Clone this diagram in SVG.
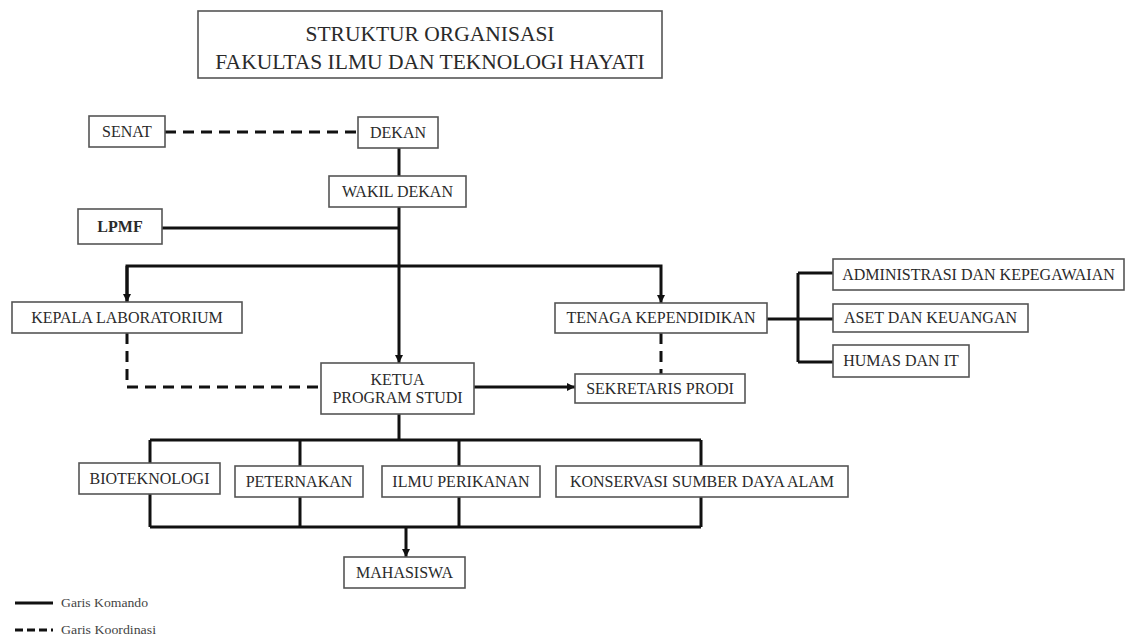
<svg xmlns="http://www.w3.org/2000/svg" width="1133" height="636" viewBox="0 0 1133 636">
<style>
.box{fill:#fff;stroke:#555;stroke-width:1.6}
.t{font-family:"Liberation Serif","Times New Roman",serif;font-size:16px;fill:#2a2a2a;text-anchor:middle}
.title{font-family:"Liberation Serif","Times New Roman",serif;font-size:21.5px;fill:#2a2a2a;text-anchor:middle}
.leg{font-family:"Liberation Serif","Times New Roman",serif;font-size:12px;fill:#444}
.s{fill:none;stroke:#111;stroke-width:3}
.d{fill:none;stroke:#111;stroke-width:3;stroke-dasharray:11 7}
</style>
<defs>
<marker id="ah" markerUnits="userSpaceOnUse" markerWidth="10" markerHeight="10" refX="8" refY="5" orient="auto">
<path d="M0,1 L8,5 L0,9 Z" fill="#111"/>
</marker>
</defs>
<g id="connectors">
<path class="d" d="M165,132 H358"/>
<path class="s" d="M399,148 V176"/>
<path class="s" d="M399,207 V363" marker-end="url(#ah)"/>
<path class="s" d="M162,228 H399"/>
<path class="s" d="M127,302 V266 H661 V303" marker-end="url(#ah)"/>
<path class="s" d="M127,266 V302" marker-end="url(#ah)"/>
<path class="d" d="M127,333 V387 H321"/>
<path class="d" d="M661,333 V374"/>
<path class="s" d="M474,387 H575" marker-end="url(#ah)"/>
<path class="s" d="M767,319 H833 M798,273 V362 M798,273 H833 M798,362 H833"/>
<path class="s" d="M399,414 V440 M150,440 H701 M150,440 V527 M300,440 V527 M459,440 V527 M701,440 V527 M150,527 H701"/>
<path class="s" d="M406,527 V557" marker-end="url(#ah)"/>
</g>
<g id="title"><rect class="box" x="198" y="11" width="464" height="67"/>
<text class="title" x="430" y="41">STRUKTUR ORGANISASI</text>
<text class="title" x="430" y="69">FAKULTAS ILMU DAN TEKNOLOGI HAYATI</text></g>
<g id="senat"><rect class="box" x="89" y="116" width="76" height="31"/><text class="t" x="127" y="137">SENAT</text></g>
<g id="dekan"><rect class="box" x="358" y="117" width="80" height="31"/><text class="t" x="398" y="138">DEKAN</text></g>
<g id="wakil-dekan"><rect class="box" x="329" y="176" width="137" height="31"/><text class="t" x="397.5" y="197">WAKIL DEKAN</text></g>
<g id="lpmf"><rect class="box" x="78" y="209" width="84" height="35"/><text class="t" x="120" y="232" font-weight="bold">LPMF</text></g>
<g id="kepala-lab"><rect class="box" x="12" y="302" width="230" height="31"/><text class="t" x="127" y="323">KEPALA LABORATORIUM</text></g>
<g id="tenaga"><rect class="box" x="555" y="303" width="212" height="30"/><text class="t" x="661" y="323">TENAGA KEPENDIDIKAN</text></g>
<g id="ketua"><rect class="box" x="321" y="363" width="153" height="51"/><text class="t" x="397.5" y="385">KETUA</text><text class="t" x="397.5" y="403">PROGRAM STUDI</text></g>
<g id="sekretaris"><rect class="box" x="575" y="374" width="170" height="29"/><text class="t" x="660" y="394">SEKRETARIS PRODI</text></g>
<g id="administrasi"><rect class="box" x="833" y="259" width="291" height="31"/><text class="t" x="978.5" y="280">ADMINISTRASI DAN KEPEGAWAIAN</text></g>
<g id="aset"><rect class="box" x="833" y="304" width="195" height="28"/><text class="t" x="930.5" y="323">ASET DAN KEUANGAN</text></g>
<g id="humas"><rect class="box" x="833" y="345" width="136" height="32"/><text class="t" x="901" y="366">HUMAS DAN IT</text></g>
<g id="bioteknologi"><rect class="box" x="79" y="463" width="141" height="31"/><text class="t" x="149.5" y="484">BIOTEKNOLOGI</text></g>
<g id="peternakan"><rect class="box" x="235" y="466" width="128" height="31"/><text class="t" x="299" y="487">PETERNAKAN</text></g>
<g id="ilmu-perikanan"><rect class="box" x="382" y="466" width="158" height="31"/><text class="t" x="461" y="487">ILMU PERIKANAN</text></g>
<g id="konservasi"><rect class="box" x="556" y="466" width="292" height="31"/><text class="t" x="702" y="487">KONSERVASI SUMBER DAYA ALAM</text></g>
<g id="mahasiswa"><rect class="box" x="344" y="557" width="121" height="31"/><text class="t" x="404.5" y="578">MAHASISWA</text></g>
<g id="legend">
<path class="s" d="M15,603 H53"/>
<text class="leg" x="61" y="607" textLength="87" lengthAdjust="spacingAndGlyphs">Garis Komando</text>
<path class="d" d="M15,630 H53" style="stroke-dasharray:8 4"/>
<text class="leg" x="61" y="634" textLength="95" lengthAdjust="spacingAndGlyphs">Garis Koordinasi</text>
</g>
</svg>
